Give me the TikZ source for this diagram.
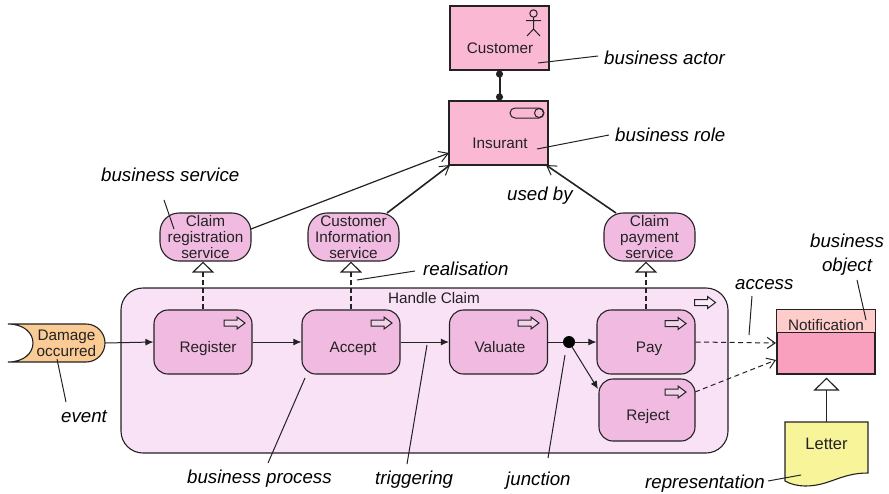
\documentclass[tikz,border=0pt]{standalone}
\usepackage{fontspec}
\setmainfont{Liberation Sans}
\usetikzlibrary{arrows.meta,calc}
\definecolor{ink}{HTML}{222222}
\definecolor{rolepink}{HTML}{FBB8D2}
\definecolor{svcpink}{HTML}{F1BBE1}
\definecolor{grouppink}{HTML}{F9E1F6}
\definecolor{evorange}{HTML}{FBCB96}
\definecolor{objhead}{HTML}{FFCCCC}
\definecolor{objbody}{HTML}{F9A0BF}
\definecolor{letteryellow}{HTML}{F8F49A}
\tikzset{
  base/.style={draw=ink,line width=1.1pt,inner sep=0pt,align=center,text=ink,font=\fontsize{15.3}{16}\selectfont},
  plain text/.style={inner sep=0pt,align=center,text=ink,font=\fontsize{15.3}{16}\selectfont},
  rolebox/.style={base,fill=rolepink,minimum width=99pt,minimum height=64pt},
  svcbox/.style={base,fill=svcpink,rounded corners=19pt,minimum width=91pt,minimum height=48pt},
  procbox/.style={base,fill=svcpink,rounded corners=14pt,minimum width=98pt,minimum height=64pt},
  anno/.style={inner sep=0pt,align=center,text=black,font=\fontsize{18.7}{24}\selectfont\itshape},
  leader/.style={draw=ink,line width=1pt},
  flow/.style={draw=ink,line width=1pt,-{Latex[length=8pt,width=7pt]}},
  realise/.style={draw=ink,line width=1.5pt,dash pattern=on 5pt off 3pt,-{Triangle[open,fill=white,length=11pt,width=22pt,line width=1.2pt]}},
  accessline/.style={draw=ink,line width=1pt,dash pattern=on 5pt off 3.5pt,-{Straight Barb[length=8pt,width=11pt,line width=1pt]}},
  usedby/.style={draw=ink,line width=1.2pt,-{Straight Barb[length=9pt,width=11pt,line width=1pt]}},
  proc icon/.pic={\draw[draw=ink,line width=1pt,line join=miter,fill=white,fill opacity=0.35]
    (-10.5,-3) -- (2.5,-3) -- (2.5,-6) -- (10.5,0) -- (2.5,6) -- (2.5,3) -- (-10.5,3) -- cycle;}
}
\newcommand{\lowtext}[2]{\hspace*{#1}\raisebox{-5pt}[10pt][0pt]{#2}}
\begin{document}
\begin{tikzpicture}[x=1pt,y=-1pt]
\useasboundingbox (0,0) rectangle (889,493);
% group
\node[base,fill=grouppink,rounded corners=22pt,minimum width=607pt,minimum height=165pt] (Handle) at (424.5,370.5) {};
\node[plain text] (HandleLabel) at (434,298) {Handle Claim};
\pic at (705,302.5) {proc icon};
% actor, role
\node[rolebox] (Customer) at (499.5,38) {};
\node[plain text] (CustomerLabel) at (500,48) {Customer};
\node[rolebox] (Insurant) at (498.5,133) {};
\node[plain text] (InsurantLabel) at (500,143) {Insurant};
\draw[draw=ink,line width=1pt] (533.5,13.5) circle (3.7);
\draw[draw=ink,line width=1pt] (533.5,17.2) -- (533.5,29) (526,20.5) -- (541,20.5) (527,36) -- (533.5,29) -- (540,36);
\draw[draw=ink,line width=1pt,fill=rolepink,rounded corners=5pt] (510,108) rectangle (544,118);
\draw[draw=ink,line width=1pt,fill=rolepink] (539,113) circle (4.5);
\draw[draw=ink,line width=1.6pt] (Insurant.south west) -- (Insurant.south east);
% services
\node[svcbox] (SvcReg) at (205.5,237) {Claim\\registration\\service};
\node[svcbox] (SvcInfo) at (353.5,237) {Customer\\Information\\service};
\node[svcbox] (SvcPay) at (649.5,237) {Claim\\payment\\service};
% processes
\node[procbox] (Register) at (203,342) {\lowtext{10pt}{Register}};
\node[procbox] (Accept) at (351,342) {\lowtext{4pt}{Accept}};
\node[procbox] (Valuate) at (498.5,342) {\lowtext{3pt}{Valuate}};
\node[procbox] (Pay) at (646,342) {\lowtext{6pt}{Pay}};
\node[procbox,minimum width=96pt,minimum height=62pt] (Reject) at (647,410) {\lowtext{2pt}{Reject}};
\pic at (234.5,323) {proc icon};
\pic at (381.5,323) {proc icon};
\pic at (528.5,323) {proc icon};
\pic at (675.5,323.5) {proc icon};
\pic at (675.5,392) {proc icon};
\node[circle,fill=black,inner sep=0pt,minimum size=12pt] (Junction) at (569,342) {};
% event
\draw[draw=ink,line width=1.1pt,fill=evorange] (8,324) -- (86,324) .. controls (97,324) and (105,333) .. (105,343) .. controls (105,353) and (97,362) .. (86,362) -- (8,362) .. controls (24,362) and (33,353) .. (33,343) .. controls (33,333) and (24,324) .. (8,324) -- cycle;
\node[plain text,minimum width=77pt,minimum height=38pt] (Damage) at (66.5,343) {Damage\\occurred};
% object
\node[base,fill=objbody,minimum width=98pt,minimum height=64pt] (Notification) at (826,342) {};
\draw[draw=ink,line width=1pt,fill=objhead] (Notification.north west) rectangle (Notification.east |- 0,332);
\node[plain text] (NotificationLabel) at (826,325) {Notification};
% letter
\draw[draw=ink,line width=1.1pt,fill=letteryellow] (785,422) -- (868,422) -- (868,473) .. controls (840,473) and (830,486) .. (805,486) .. controls (798,486) and (790,484) .. (785,481) -- cycle;
\node[plain text,font=\fontsize{16.5}{17}\selectfont,minimum width=83pt,minimum height=44pt] (Letter) at (826.5,444) {Letter};
% connectors
\draw[draw=ink,line width=2pt,{Circle[length=7pt]}-{Circle[length=7pt]}] (Customer.south) -- (Insurant.north -| Customer.south);
\coordinate (InsA) at (449,153);
\coordinate (InsB) at (450,165);
\coordinate (InsC) at (546,165);
\coordinate (RegOut) at (251,229);
\coordinate (InfoOut) at (387,213);
\coordinate (PayOut) at (616,213);
\draw[usedby] (RegOut) -- (InsA);
\draw[usedby,line width=1.6pt] (InfoOut) -- (InsB);
\draw[usedby,line width=1.6pt] (PayOut) -- (InsC);
\draw[realise] (Register.north) -- (Register.north |- SvcReg.south);
\draw[realise] (Accept.north) -- (Accept.north |- SvcInfo.south);
\draw[realise] (Pay.north) -- (Pay.north |- SvcPay.south);
\draw[flow] (Damage.east) -- (Register.west);
\draw[flow] (Register.east) -- (Accept.west);
\draw[flow] (Accept.east) -- (Valuate.west);
\draw[draw=ink,line width=1pt] (Valuate.east) -- (Junction);
\draw[flow] (Junction) -- (Pay.west);
\coordinate (RejIn) at (598,389);
\draw[flow] (Junction) -- (RejIn);
\coordinate (NotA) at (776,343);
\coordinate (NotB) at (776,360);
\coordinate (RejOut) at (695,392);
\draw[accessline] (Pay.east) -- (NotA);
\draw[accessline] (RejOut) -- (NotB);
\draw[draw=ink,line width=1.5pt,-{Triangle[open,fill=white,length=13pt,width=26pt,line width=1.2pt]}] (Letter.north) -- ($(Letter.north |- Notification.south)+(0,3)$);
% annotations
\node[anno,anchor=west] (tActor) at (604,58) {business actor};
\node[anno,anchor=west] (tRole) at (615,135) {business role};
\node[anno,anchor=west] (tUsed) at (507,196) {used by};
\node[anno,anchor=west] (tService) at (101,175) {business service};
\node[anno,anchor=west] (tReal) at (423,269) {realisation};
\node[anno,anchor=west] (tAccess) at (735,285) {access};
\node[anno] (tObject) at (847,255) {business\\object};
\node[anno,anchor=west] (tEvent) at (61,417) {event};
\node[anno,anchor=west] (tProcess) at (187,479) {business process};
\node[anno,anchor=west] (tTrig) at (375,480) {triggering};
\node[anno,anchor=west] (tJunc) at (506,481) {junction};
\node[anno,anchor=west] (tRepr) at (645,484) {representation};
\coordinate (a1) at (538,63); \coordinate (a0) at (598,56);
\coordinate (b1) at (537,149); \coordinate (b0) at (609,135);
\coordinate (c1) at (174,229); \coordinate (c0) at (164,200);
\coordinate (d1) at (357,280); \coordinate (d0) at (415,271);
\coordinate (e1) at (749,335); \coordinate (e0) at (752,296);
\coordinate (f1) at (866,320); \coordinate (f0) at (857,280);
\coordinate (g1) at (57,359); \coordinate (g0) at (66,402);
\coordinate (h1) at (305,378); \coordinate (h0) at (268,463);
\coordinate (i1) at (427,345); \coordinate (i0) at (407,464);
\coordinate (j1) at (565,355); \coordinate (j0) at (548,458);
\coordinate (k1) at (801,475); \coordinate (k0) at (768,481);
\foreach \p/\q in {a0/a1,b0/b1,c0/c1,d0/d1,e0/e1,f0/f1,g0/g1,h0/h1,i0/i1,j0/j1,k0/k1} \draw[leader] (\p) -- (\q);
\end{tikzpicture}
\end{document}
